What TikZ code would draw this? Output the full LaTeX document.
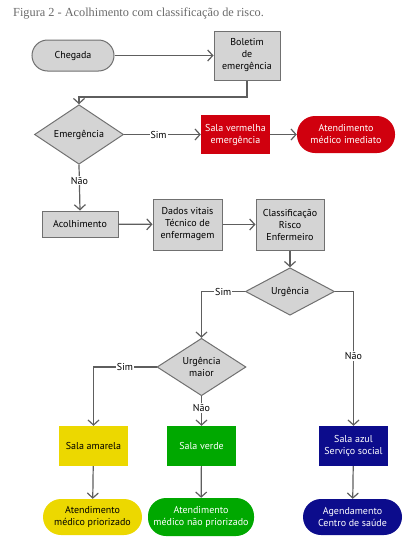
\documentclass[tikz,border=0pt]{standalone}
\usepackage{fontspec}
\setmainfont{PT Sans}
\newfontfamily\titlefont{Liberation Serif}
\usetikzlibrary{arrows.meta,shapes.geometric,positioning,calc}
\definecolor{lgray}{HTML}{D4D4D4}
\definecolor{bgray}{HTML}{707070}
\definecolor{lgray2}{HTML}{5E5E5E}
\definecolor{cred}{HTML}{D0000E}
\definecolor{cyel}{HTML}{ECD800}
\definecolor{cgreen}{HTML}{00A800}
\definecolor{cnavy}{HTML}{0C0C8C}
\definecolor{ttl}{HTML}{6A6A6A}
\begin{document}
\begin{tikzpicture}[x=1pt,y=-1pt,
  every node/.style={font=\fontsize{10}{12}\selectfont, align=center, inner sep=0pt},
  graybox/.style={draw=bgray, line width=1pt, fill=lgray, rectangle},
  grayd/.style={draw=bgray, line width=1pt, fill=lgray, diamond},
  colbox/.style={rectangle, fill=#1, minimum width=69pt, minimum height=40pt},
  pill/.style={rectangle, rounded corners=18pt, fill=#1},
  arr/.style={draw=lgray2, line width=1.2pt, -{Straight Barb[length=5pt,width=11pt,line width=1.2pt]}},
  lbl/.style={fill=white, inner sep=1pt, font=\fontsize{10}{12}\selectfont}
]
\useasboundingbox (0,0) rectangle (414,549);
\node[anchor=base west, font=\titlefont\fontsize{12.3}{14}\selectfont, text=ttl] (title) at (13,16) {Figura 2 - Acolhimento com classificação de risco.};

\node[graybox, rounded corners=15.5pt, minimum width=82pt, minimum height=31pt] (cheg) at (73,55.5) {Chegada};
\node[graybox, minimum width=66pt, minimum height=49pt] (bol) at (247,55.5) {Boletim\\de\\emergência};
\node[grayd, minimum width=89pt, minimum height=40pt] (emerg) at (79,134.5) {Emergência};
\node[colbox=cred, text=white, minimum height=39pt] (verm) at (235.5,134.5) {Sala vermelha\\emergência};
\node[pill=cred, text=white, minimum width=98pt, minimum height=37pt] (imed) at (346,134.5) {Atendimento\\médico imediato};

\node[graybox, minimum width=76pt, minimum height=26pt] (acol) at (80,224) {Acolhimento};
\node[graybox, minimum width=69pt, minimum height=51pt] (dados) at (187.5,224.5) {Dados vitais\\Técnico de\\enfermagem};
\node[graybox, minimum width=68pt, minimum height=51pt] (class) at (290,224.5) {Classificação\\Risco\\Enfermeiro};
\node[grayd, minimum width=89pt, minimum height=41pt] (urg) at (290,291.5) {Urgência};
\node[grayd, minimum width=89pt, minimum height=41pt] (urgm) at (201.5,367) {Urgência\\maior};

\node[colbox=cyel] (amar) at (93.5,446) {Sala amarela};
\node[colbox=cgreen, text=white] (verde) at (201.5,446) {Sala verde};
\node[colbox=cnavy, text=white] (azul) at (353.5,446) {Sala azul\\Serviço social};

\node[pill=cyel, minimum width=99pt, minimum height=36pt] (prio) at (92.5,517) {Atendimento\\médico priorizado};
\node[pill=cgreen, text=white, minimum width=106pt, minimum height=38pt] (naop) at (201,517) {Atendimento\\médico não priorizado};
\node[pill=cnavy, text=white, minimum width=99pt, minimum height=36pt] (agen) at (352.5,517) {Agendamento\\Centro de saúde};

\coordinate (c1) at (79,97);

\draw[arr] (cheg) -- (bol);
\draw[arr] (bol.south) |- (c1) -- (emerg.north);
\draw[arr] (emerg.east) -- node[lbl, pos=0.45] {Sim} (verm.west);
\draw[arr] (verm) -- (imed);
\draw[arr] (emerg.south) -- node[lbl, pos=0.35] {Não} (acol.north);
\draw[arr] (acol) -- (dados);
\draw[arr] (dados) -- (class);
\draw[arr] (class) -- (urg.north);
\draw[arr] (urg.west) -| node[lbl, pos=0.25] {Sim} (urgm.north);
\draw[arr] (urgm.west) -| node[lbl, pos=0.25] {Sim} (amar.north);
\draw[arr] (urgm.south) -- node[lbl, pos=0.4] {Não} (verde.north);
\draw[arr] (urg.east) -| node[lbl, pos=0.74] {Não} (azul.north);
\draw[arr] (amar) -- (prio);
\draw[arr] (verde) -- (naop);
\draw[arr] (azul) -- (agen);
\end{tikzpicture}
\end{document}
